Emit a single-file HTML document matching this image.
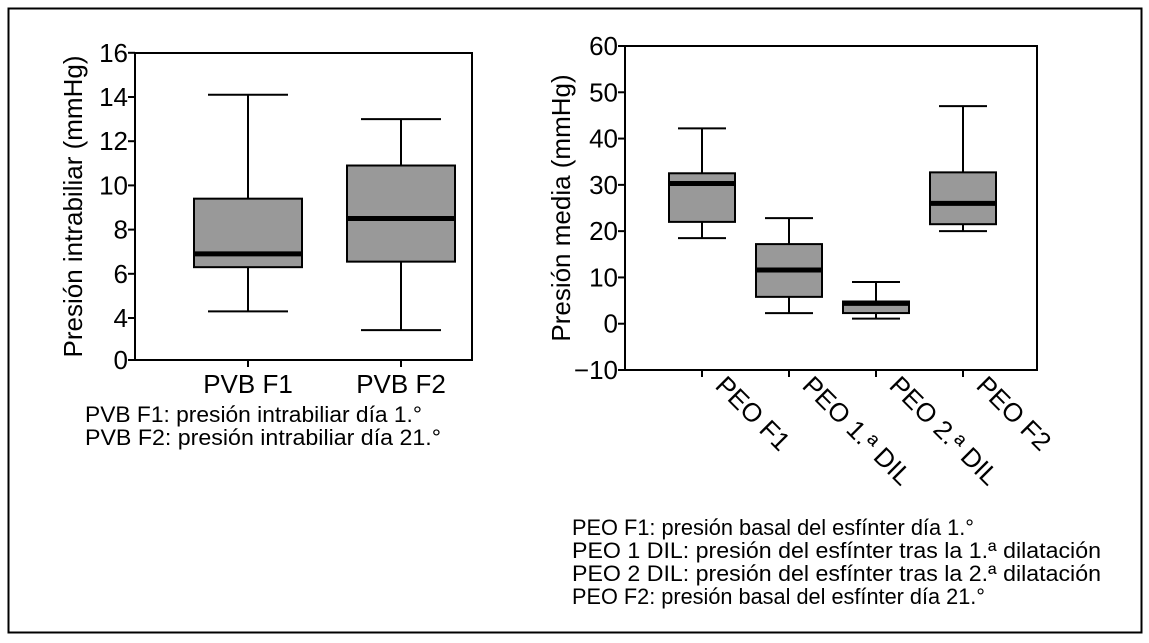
<!DOCTYPE html>
<html><head><meta charset="utf-8"><style>
html,body{margin:0;padding:0;background:#fff}
svg{display:block;font-family:"Liberation Sans",sans-serif}
</style></head><body>
<svg id="s" width="1149" height="643" viewBox="0 0 1149 643">
<rect x="8.5" y="8.5" width="1133" height="624" fill="none" stroke="#000" stroke-width="2"/>
<g id="left"></g>
<g id="right"></g>
<g font-size="22">
<text x="85" y="422" textLength="337" lengthAdjust="spacingAndGlyphs">PVB F1: presión intrabiliar día 1.°</text>
<text x="85" y="445" textLength="356" lengthAdjust="spacingAndGlyphs">PVB F2: presión intrabiliar día 21.°</text>
</g>
<g font-size="22">
<text x="572" y="535" textLength="402" lengthAdjust="spacingAndGlyphs">PEO F1: presión basal del esfínter día 1.°</text>
<text x="572" y="558" textLength="529" lengthAdjust="spacingAndGlyphs">PEO 1 DIL: presión del esfínter tras la 1.ª dilatación</text>
<text x="572" y="581" textLength="529" lengthAdjust="spacingAndGlyphs">PEO 2 DIL: presión del esfínter tras la 2.ª dilatación</text>
<text x="572" y="604" textLength="413" lengthAdjust="spacingAndGlyphs">PEO  F2: presión basal del esfínter día 21.°</text>
</g>
</svg>
<script>
const leftCats=["PVB F1","PVB F2"];
const leftMin=[4.3,3.45];
const leftQ1=[6.3,6.55];
const leftMed=[6.9,8.5];
const leftQ3=[9.4,10.9];
const leftMax=[14.1,13];
const leftTicks=[0,4,6,8,10,12,14,16];

const rightCats=["PEO F1","PEO 1.ª DIL","PEO 2.ª DIL","PEO F2"];
const rightMin=[18.5,2.3,1.1,20];
const rightQ1=[22,5.8,2.3,21.5];
const rightMed=[30.3,11.6,4.4,26];
const rightQ3=[32.5,17.2,4.8,32.7];
const rightMax=[42.2,22.8,9,47];
const rightTicks=[-10,0,10,20,30,40,50,60];

const NS="http://www.w3.org/2000/svg";
function mk(p,tag,a){const e=document.createElementNS(NS,tag);for(const k in a)e.setAttribute(k,a[k]);p.appendChild(e);return e;}

function drawChart(g,o){
  const fr=mk(g,'rect',{x:o.x0,y:o.y0,width:o.x1-o.x0,height:o.y1-o.y0,fill:'none',stroke:'#000','stroke-width':2});
  
  
  o.ticks.forEach(t=>{
    const y=o.ys(t);
    const l=mk(g,'line',{x1:o.x0-7,x2:o.x0,y1:y,y2:y,stroke:'#000','stroke-width':2});
    
    
    const tx=mk(g,'text',{x:o.x0-7,y:y+9,'text-anchor':'end','font-size':26});
    tx.textContent=t<0?'\u2212'+(-t):String(t);
    
    
  });
  const tt=mk(g,'text',{transform:`translate(${o.titleX},${(o.y0+o.y1)/2}) rotate(-90)`,'text-anchor':'middle','font-size':26});
  tt.textContent=o.title;
  
  
  o.cats.forEach((c,i)=>{
    const cx=o.xs(i);
    const tk=mk(g,'line',{x1:cx,x2:cx,y1:o.y1,y2:o.y1+7,stroke:'#000','stroke-width':2});
    
    
    let lb;
    if(o.rot){lb=mk(g,'text',{transform:`translate(${cx+12},${o.y1+17}) rotate(45)`,'font-size':26});}
    else{lb=mk(g,'text',{x:cx,y:o.y1+33,'text-anchor':'middle','font-size':26});}
    lb.textContent=c;
    
    
    const bw=o.bw, cw=o.cw;
    const w=mk(g,'path',{d:`M${cx-cw},${o.ys(o.max[i])}H${cx+cw}M${cx},${o.ys(o.max[i])}V${o.ys(o.q3[i])}M${cx},${o.ys(o.q1[i])}V${o.ys(o.min[i])}M${cx-cw},${o.ys(o.min[i])}H${cx+cw}`,stroke:'#000','stroke-width':2,fill:'none'});
    
    
    const b=mk(g,'rect',{x:cx-bw,y:o.ys(o.q3[i]),width:2*bw,height:o.ys(o.q1[i])-o.ys(o.q3[i]),fill:'#999',stroke:'#000','stroke-width':2});
    
    
    const m=mk(g,'line',{x1:cx-bw,x2:cx+bw,y1:o.ys(o.med[i]),y2:o.ys(o.med[i]),stroke:'#000','stroke-width':5});
    
    
  });
}
drawChart(document.getElementById('left'),{
  x0:135,x1:472,y0:53,y1:360,
  ys:v=>v<=0?360:318-(v-4)*22.1,
  xs:i=>248+i*153,bw:54,cw:40,
  cats:leftCats,min:leftMin,q1:leftQ1,med:leftMed,q3:leftQ3,max:leftMax,ticks:leftTicks,
  title:'Presión intrabiliar (mmHg)',titleX:82,rot:false
});
drawChart(document.getElementById('right'),{
  x0:625,x1:1037,y0:46,y1:370,
  ys:v=>370-(v+10)*(324/70),
  xs:i=>702+i*87,bw:33,cw:24,
  cats:rightCats,min:rightMin,q1:rightQ1,med:rightMed,q3:rightQ3,max:rightMax,ticks:rightTicks,
  title:'Presión media (mmHg)',titleX:570,rot:true
});
</script>
</body></html>
